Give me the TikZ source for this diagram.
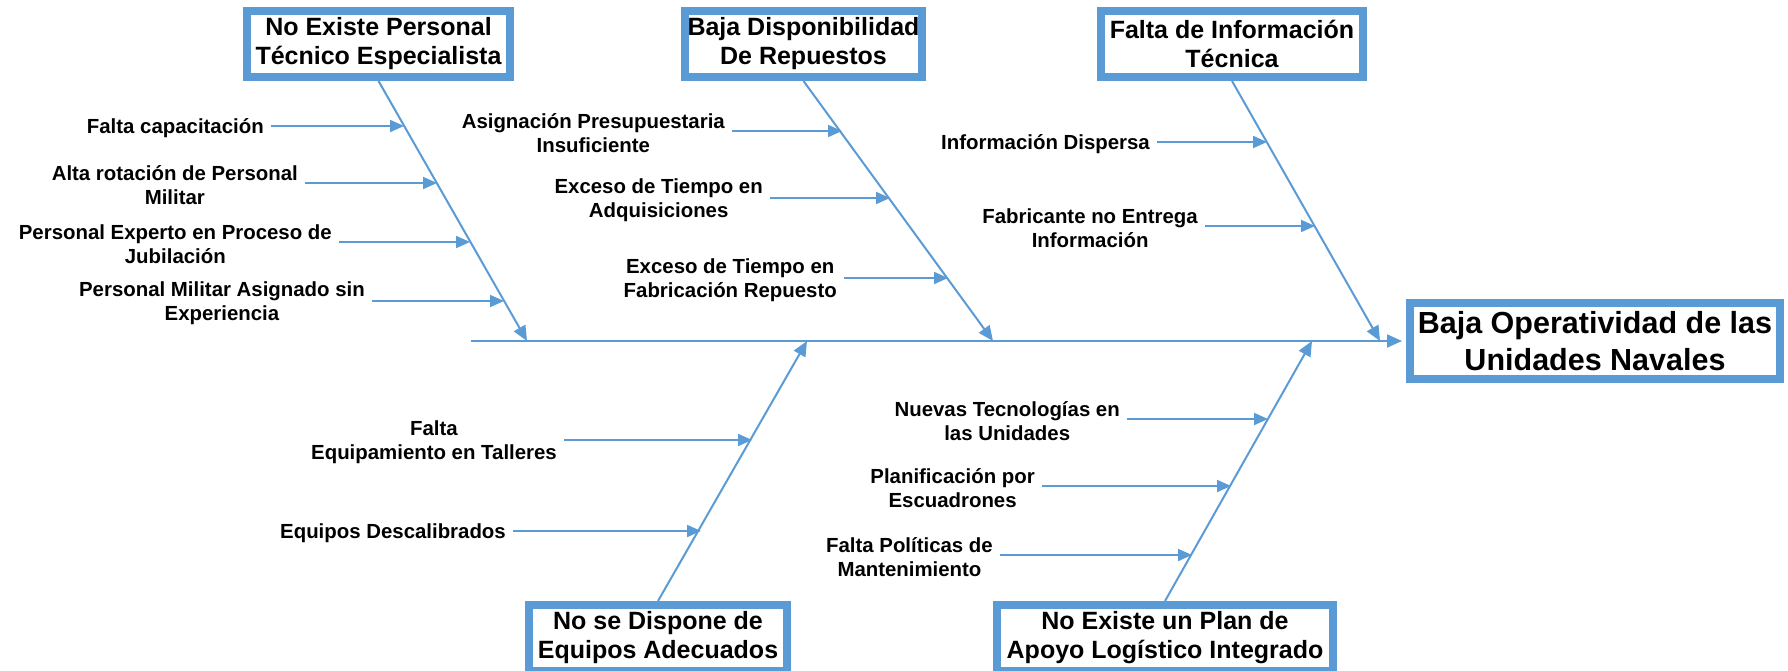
\documentclass[tikz,border=0pt]{standalone}
\usepackage{fontspec}
\setmainfont{Liberation Sans}
\usetikzlibrary{arrows.meta}
\definecolor{boneblue}{RGB}{91,155,213}

\begin{document}
\begin{tikzpicture}[x=1pt, y=-1pt,
  cause/.style={font=\fontsize{20.4}{24}\selectfont\bfseries, align=center, inner xsep=7pt, inner ysep=0pt, anchor=east},
  header/.style={draw=boneblue, line width=8pt, fill=white, font=\fontsize{25}{29}\selectfont\bfseries, align=center, minimum height=66pt, inner sep=0pt},
  bone/.style={draw=boneblue, line width=2pt, -{Triangle[length=15pt,width=13pt]}},
  twig/.style={draw=boneblue, line width=2pt, -{Triangle[length=14pt,width=12pt]}}]

  \useasboundingbox (0,0) rectangle (1788,671);
  \clip (0,0) rectangle (1788,671);

  % Efecto
  \node[header, font=\fontsize{30.5}{37}\selectfont\bfseries, minimum width=370pt, minimum height=76pt] (efecto) at (1595,341) {Baja Operatividad de las\\Unidades Navales};

  % Causas principales
  \node[header, minimum width=263pt] (personal) at (378.5,44) {No Existe Personal\\Técnico Especialista};
  \node[header, minimum width=237pt] (repuestos) at (803.5,44) {Baja Disponibilidad\\De Repuestos};
  \node[header, minimum width=262pt] (informacion) at (1232,44) {Falta de Información\\Técnica};
  \node[header, minimum width=258pt] (equipos) at (658,638) {No se Dispone de\\Equipos Adecuados};
  \node[header, minimum width=336pt] (plan) at (1165,638) {No Existe un Plan de\\Apoyo Logístico Integrado};

  % Espina
  \coordinate (cola) at (471,341);
  \draw[bone, shorten >=4pt] (cola) -- (efecto.west);

  \coordinate (h1) at (527,341);
  \coordinate (h2) at (993,341);
  \coordinate (h3) at (1380,341);
  \coordinate (h4) at (807,341);
  \coordinate (h5) at (1312,341);
  \draw[bone] (personal.south) -- (h1);
  \draw[bone] (repuestos.south) -- (h2);
  \draw[bone] (informacion.south) -- (h3);
  \draw[bone] (equipos.north) -- (h4);
  \draw[bone] (plan.north) -- (h5);

  % Personal
  \coordinate (p11) at (404,126);
  \coordinate (p12) at (437,183);
  \coordinate (p13) at (470,242);
  \coordinate (p14) at (504,301);
  \node[cause] (capac) at (271,128) {Falta capacitación};
  \node[cause] (rotac) at (305,185) {Alta rotación de Personal\\Militar};
  \node[cause] (jubil) at (339,244) {Personal Experto en Proceso de\\Jubilación};
  \node[cause] (experi) at (372,303) {Personal Militar Asignado sin\\Experiencia};
  \draw[twig] (capac.east |- p11) -- (p11);
  \draw[twig] (rotac.east |- p12) -- (p12);
  \draw[twig] (jubil.east |- p13) -- (p13);
  \draw[twig] (experi.east |- p14) -- (p14);

  % Repuestos
  \coordinate (p21) at (842,131);
  \coordinate (p22) at (890,198);
  \coordinate (p23) at (948,278);
  \node[cause] (asign) at (732,133) {Asignación Presupuestaria\\Insuficiente};
  \node[cause] (adqui) at (770,200) {Exceso de Tiempo en\\Adquisiciones};
  \node[cause] (fabric) at (844,280) {Exceso de Tiempo en\\Fabricación Repuesto};
  \draw[twig] (asign.east |- p21) -- (p21);
  \draw[twig] (adqui.east |- p22) -- (p22);
  \draw[twig] (fabric.east |- p23) -- (p23);

  % Informacion
  \coordinate (p31) at (1267,142);
  \coordinate (p32) at (1315,226);
  \node[cause] (dispersa) at (1157,144) {Información Dispersa};
  \node[cause] (fabricante) at (1205,228) {Fabricante no Entrega\\Información};
  \draw[twig] (dispersa.east |- p31) -- (p31);
  \draw[twig] (fabricante.east |- p32) -- (p32);

  % Equipos
  \coordinate (p41) at (752,440);
  \coordinate (p42) at (701,531);
  \node[cause] (talleres) at (564,442) {Falta\\Equipamiento en Talleres};
  \node[cause] (descal) at (513,533) {Equipos Descalibrados};
  \draw[twig] (talleres.east |- p41) -- (p41);
  \draw[twig] (descal.east |- p42) -- (p42);

  % Plan
  \coordinate (p51) at (1268,419);
  \coordinate (p52) at (1231,486);
  \coordinate (p53) at (1192,555);
  \node[cause] (tecno) at (1127,421) {Nuevas Tecnologías en\\las Unidades};
  \node[cause] (escuad) at (1042,488) {Planificación por\\Escuadrones};
  \node[cause] (politicas) at (1000,557) {Falta Políticas de\\Mantenimiento};
  \draw[twig] (tecno.east |- p51) -- (p51);
  \draw[twig] (escuad.east |- p52) -- (p52);
  \draw[twig] (politicas.east |- p53) -- (p53);

\end{tikzpicture}
\end{document}
